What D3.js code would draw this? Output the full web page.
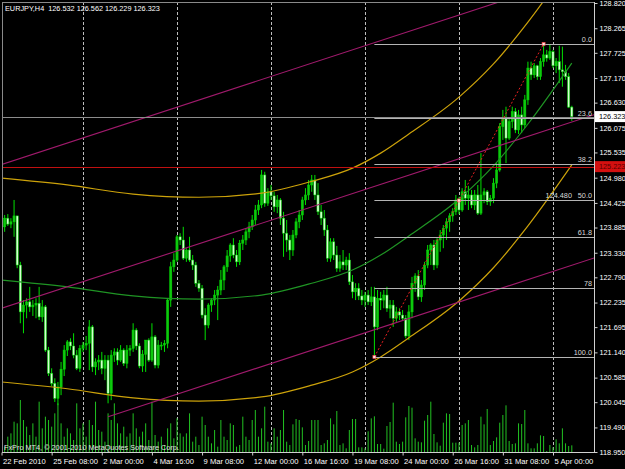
<!DOCTYPE html>
<html>
<head>
<meta charset="utf-8">
<script src="https://cdn.jsdelivr.net/npm/d3@7"></script>
<style>
  body { margin: 0; background: #000; }
  svg { display: block; }
  text { font-family: 'Liberation Sans', Arial, sans-serif; }
</style>
</head>
<body>
<svg></svg>
<script>
const width = 625;
const height = 469;
const plotLeft = 2, plotRight = 594, plotTop = 2, plotBottom = 452;

const symbol = 'EURJPY,H4';
const copyright = 'FxPro MT4, \u00a9 2001-2010 MetaQuotes Software Corp.';

// H4 bars, bar 0 = Mon 22 Feb 2010 00:00 (30 bars a week)
const firstBar = 4;
const firstOpen = 124.27;

const highs = [
  124.53,124.16,124.18,124.09,124.49,124.09,123.13,122.29,122.33,122.58,
  122.29,122.33,122.58,122.29,122.18,121.26,120.79,120.57,120.49,120.93,
  121.30,121.41,121.45,121.56,121.19,121.30,121.37,121.50,121.85,121.74,
  121.01,121.08,121.15,121.08,121.08,121.19,121.23,121.23,121.30,121.23,
  121.30,121.30,121.78,121.67,121.34,121.19,121.41,121.45,121.78,121.52,
  121.41,121.37,121.41,122.33,123.13,123.32,123.72,123.76,123.90,123.43,
  123.68,123.28,123.13,122.73,122.62,122.11,122.22,122.33,122.51,122.60,
  122.95,123.06,123.39,123.54,123.65,123.39,123.61,123.72,123.87,124.01,
  124.16,124.38,124.49,125.15,125.11,124.75,124.82,124.67,124.60,124.53,
  124.23,124.05,123.72,123.83,124.09,124.27,124.56,124.75,124.93,125.04,
  125.04,124.86,124.38,124.27,123.94,123.65,123.65,123.48,123.28,123.39,
  123.24,123.32,122.84,122.66,122.66,122.51,122.47,122.51,122.58,122.58,
  122.51,122.47,122.51,122.58,122.29,122.29,122.14,122.11,122.07,121.96,
  122.18,122.80,122.88,122.95,122.73,123.13,123.50,123.54,123.61,123.65,
  123.83,123.94,124.09,124.20,124.31,124.60,124.56,124.75,124.93,124.80,
  124.71,124.71,124.82,125.52,124.75,124.71,124.60,124.97,125.30,126.18,
  126.47,126.54,126.29,126.54,126.51,126.47,126.54,126.80,127.53,127.53,
  127.50,127.46,127.61,127.92,127.79,127.90,127.79,127.61,127.88,127.86,
  127.46,127.28,126.562
];
const lows = [
  123.61,123.79,123.92,123.87,123.68,122.99,121.78,121.56,121.89,122.03,
  121.94,121.89,121.85,121.81,121.15,120.62,120.40,120.05,119.98,120.20,
  120.62,121.06,121.19,121.01,120.75,120.71,121.15,121.19,120.75,120.71,
  120.64,120.75,120.66,120.53,120.02,120.09,120.93,120.86,120.93,120.84,
  120.79,121.06,121.15,121.19,120.79,120.71,120.71,120.93,120.93,120.79,
  120.79,121.19,121.15,121.23,122.14,122.91,123.13,123.50,123.17,123.13,
  123.13,122.95,122.58,122.47,121.89,121.41,121.67,122.03,122.18,121.85,
  122.40,122.51,122.91,123.13,123.21,123.02,123.06,123.39,123.50,123.65,
  123.83,123.94,124.16,124.31,124.34,124.36,124.49,124.23,124.20,123.94,
  123.24,123.35,123.17,123.26,123.65,123.87,124.05,124.38,124.49,124.67,
  124.49,124.16,123.94,123.70,123.13,123.13,123.17,122.91,122.91,122.95,
  122.95,122.62,122.33,122.29,122.29,122.18,122.14,122.18,122.16,121.04,
  121.63,122.07,122.11,122.03,121.89,121.70,121.81,121.85,121.85,121.45,
  121.41,121.89,122.47,122.29,122.25,122.51,122.99,123.06,122.95,122.99,
  123.35,123.43,123.61,123.79,124.01,124.16,124.18,124.23,124.38,124.27,
  124.31,124.27,124.16,124.16,124.42,124.38,124.36,124.42,124.75,125.11,
  125.81,125.30,125.81,126.07,125.96,125.94,125.96,126.07,126.58,127.13,
  127.17,127.13,127.13,127.42,127.53,127.57,127.39,127.28,127.06,126.98,
  127.13,126.51,126.229
];
const closes = [
  123.90,124.09,123.96,124.01,124.14,123.06,122.03,122.18,122.25,122.14,
  122.18,122.22,121.92,122.14,121.19,120.68,120.46,120.13,120.38,120.77,
  121.19,121.37,121.28,121.08,120.79,121.23,121.30,121.34,121.70,120.82,
  120.93,120.97,120.79,120.97,120.24,121.08,121.15,120.97,121.19,120.90,
  121.19,121.23,121.63,121.28,120.84,121.10,121.41,120.97,121.48,120.86,
  121.30,121.30,121.34,122.29,123.02,123.17,123.68,123.61,123.21,123.39,
  123.17,123.06,122.66,122.55,121.96,121.74,122.18,122.29,122.40,122.51,
  122.73,123.02,123.26,123.50,123.28,123.13,123.54,123.61,123.79,123.90,
  124.05,124.27,124.38,125.04,124.42,124.67,124.58,124.34,124.49,124.09,
  123.76,123.61,123.39,123.72,124.01,124.16,124.49,124.60,124.82,124.93,
  124.60,124.23,124.09,123.83,123.21,123.57,123.28,122.99,123.13,123.06,
  123.17,122.69,122.47,122.55,122.38,122.29,122.40,122.25,122.36,121.70,
  122.33,122.29,122.40,122.11,122.18,121.89,122.03,121.96,121.89,121.50,
  122.03,122.66,122.82,122.36,122.62,123.06,123.39,123.50,123.06,123.61,
  123.72,123.87,124.01,124.14,124.23,124.49,124.27,124.67,124.53,124.60,
  124.38,124.60,124.20,124.60,124.67,124.45,124.53,124.86,125.15,126.10,
  126.29,125.85,126.21,126.43,126.03,126.36,126.14,126.69,127.39,127.24,
  127.44,127.20,127.53,127.68,127.61,127.75,127.44,127.53,127.35,127.31,
  127.20,126.532,126.323
];
const volumes = [
  1060,160,460,560,910,860,1560,960,760,510,860,460,1510,710,1060,960,760,1160,1460,860,
  460,710,560,360,1460,710,860,460,960,810,1510,660,610,310,1160,960,1460,860,560,760,
  460,560,1160,710,460,610,860,360,1510,510,310,460,210,710,860,410,1010,560,460,560,
  1160,310,460,210,1060,810,460,260,660,160,960,460,360,860,810,160,210,1060,460,360,
  960,1260,460,710,1360,310,260,710,460,660,1260,310,
  210,830,990,960,740,210,330,960,960,960,210,260,360,1010,830,1230,210,260,110,
  660,990,990,140,140,110,620,1010,1070,240,240,100,780,900,1480,310,240,310,1040,1380,
  1330,410,310,290,940,1110,1510,540,290,190,880,1160,1140,280,280,280,810,860,960,210,
  140,210,1060,830,1290,210,330,440,880,1110,1400,330,240,260,860,840,1260,260,110,110,
  260,500,480,30,210,140,380,260,710,260,180,200
];

const priceTicks = [128.820,128.265,127.725,127.170,126.630,126.075,125.535,124.980,124.425,
  123.885,123.330,122.790,122.235,121.695,121.140,120.585,120.045,119.490,118.950];
const timeBars = [4,20,36,52,68,84,100,116,132,148,164,180];
const timeLabels = ['22 Feb 2010','25 Feb 08:00','2 Mar 00:00','4 Mar 16:00','9 Mar 08:00',
  '12 Mar 00:00','16 Mar 16:00','19 Mar 08:00','24 Mar 00:00','26 Mar 16:00','31 Mar 08:00','5 Apr 00:00'];
const weekStarts = [30,60,90,120,150,180];

// polynomial regression channel, middle line sampled off the chart
const regBars = [4,25,46,67,87,103,116,125,134,150,161,172,186];
const regMid = [122.73,122.58,122.38,122.31,122.40,122.66,122.95,123.28,123.70,124.51,125.24,126.16,127.50];
const regWidth = 2.24;

// equidistant channel (magenta)
const chanBase = [4, 122.11];
const chanSlope = 0.0225;
const chanOffsets = [3.16, 0, -3.15];
const chanStarts = [-10, -10, 38];

// fibo retracement from swing low to swing high
const fibBars = [123, 177];
const fibLevels = [0, 23.6, 38.2, 50, 61.8, 78, 100];
const fibLabels = ['0.0', '23.6', '38.2', '50.0', '61.8', '78', '100.0'];

const alertLevel = 125.223;

const svg = d3.select('svg').attr('width', width).attr('height', height);
svg.append('rect').attr('width', width).attr('height', height).attr('fill', '#000');

const xScale = d3.scaleLinear().domain([0, 180]).range([-11, 553]);
const yScale = d3.scaleLinear().domain([118.95, 128.82]).range([452, 3]);
const vScale = d3.scaleLinear().domain([0, 1500]).range([452, 402]);
const fmt = d3.format('.3f');

const bars = closes.map((c, k) => {
  const o = k === 0 ? firstOpen : closes[k - 1];
  return { i: firstBar + k, o, c, h: Math.max(highs[k], o, c), l: Math.min(lows[k], o, c), v: volumes[k] || 0 };
});
const barAt = (i) => bars[i - firstBar];

svg.append('clipPath').attr('id', 'plot')
  .append('rect').attr('x', plotLeft).attr('y', plotTop)
  .attr('width', plotRight - plotLeft).attr('height', plotBottom - plotTop);
const plot = svg.append('g').attr('clip-path', 'url(#plot)');

// weekly grid
plot.selectAll('.grid').data(weekStarts).enter().append('line')
  .attr('x1', (d) => Math.round(xScale(d)) + 0.5).attr('x2', (d) => Math.round(xScale(d)) + 0.5)
  .attr('y1', plotTop).attr('y2', plotBottom)
  .attr('stroke', '#bdbdbd').attr('stroke-dasharray', '3,2');

// volumes
plot.selectAll('.vol').data(bars).enter().append('rect')
  .attr('x', (d) => xScale(d.i) - 0.5).attr('width', 1)
  .attr('y', (d) => vScale(d.v)).attr('height', (d) => plotBottom - vScale(d.v))
  .attr('fill', '#22c022');

// candles
plot.selectAll('.wick').data(bars).enter().append('line')
  .attr('x1', (d) => xScale(d.i)).attr('x2', (d) => xScale(d.i))
  .attr('y1', (d) => yScale(d.h)).attr('y2', (d) => yScale(d.l))
  .attr('stroke', '#00e000').attr('stroke-width', 1);
plot.selectAll('.body').data(bars).enter().append('rect')
  .attr('x', (d) => xScale(d.i) - 1.1).attr('width', 2.2)
  .attr('y', (d) => yScale(Math.max(d.o, d.c)))
  .attr('height', (d) => Math.max(1, Math.abs(yScale(d.o) - yScale(d.c))))
  .attr('fill', (d) => (d.c >= d.o ? '#10c810' : '#d4ffd0'))
  .attr('stroke', '#00d800').attr('stroke-width', 0.5);

// regression channel
const curve = d3.line().x((d) => xScale(d[0])).y((d) => yScale(d[1])).curve(d3.curveMonotoneX);
[[regWidth, '#cca20a'], [0, '#1f9424'], [-regWidth, '#cca20a']].forEach(([off, col]) => {
  plot.append('path')
    .datum(regBars.map((b, k) => [b, regMid[k] + off]))
    .attr('d', curve).attr('fill', 'none').attr('stroke', col).attr('stroke-width', 1.2);
});

// equidistant channel
const chanEnd = 200;
plot.selectAll('.chan').data(chanOffsets).enter().append('line')
  .attr('x1', (d, k) => xScale(chanStarts[k]))
  .attr('y1', (d, k) => yScale(chanBase[1] + d + chanSlope * (chanStarts[k] - chanBase[0])))
  .attr('x2', xScale(chanEnd))
  .attr('y2', (d) => yScale(chanBase[1] + d + chanSlope * (chanEnd - chanBase[0])))
  .attr('stroke', '#a01a6c').attr('stroke-width', 1.1);

// bid line and alert line
const last = bars[bars.length - 1];
plot.append('line').attr('x1', plotLeft).attr('x2', plotRight)
  .attr('y1', Math.round(yScale(last.c)) + 0.5).attr('y2', Math.round(yScale(last.c)) + 0.5)
  .attr('stroke', '#8c8c8c');
plot.append('line').attr('x1', plotLeft).attr('x2', plotRight)
  .attr('y1', Math.round(yScale(alertLevel)) + 0.5).attr('y2', Math.round(yScale(alertLevel)) + 0.5)
  .attr('stroke', '#c01010');

// fibo
const fibLow = barAt(fibBars[0]).l;
const fibHigh = barAt(fibBars[1]).h;
const fibPrice = (lv) => fibHigh - (fibHigh - fibLow) * lv / 100;
plot.selectAll('.fib').data(fibLevels).enter().append('line')
  .attr('x1', xScale(fibBars[0])).attr('x2', plotRight)
  .attr('y1', (d) => Math.round(yScale(fibPrice(d))) + 0.5)
  .attr('y2', (d) => Math.round(yScale(fibPrice(d))) + 0.5)
  .attr('stroke', '#b4b4b4');
plot.selectAll('.fibText').data(fibLevels).enter().append('text')
  .attr('x', 592).attr('y', (d) => yScale(fibPrice(d)) - 2)
  .attr('text-anchor', 'end').attr('font-size', 7.3).attr('fill', '#d8d8d8')
  .text((d, k) => fibLabels[k]);
plot.append('text').attr('x', 572).attr('y', yScale(fibPrice(50)) - 2)
  .attr('text-anchor', 'end').attr('font-size', 7.3).attr('fill', '#d8d8d8')
  .text(fmt(fibPrice(50)));
plot.append('line')
  .attr('x1', xScale(fibBars[0])).attr('y1', yScale(fibLow))
  .attr('x2', xScale(fibBars[1])).attr('y2', yScale(fibHigh))
  .attr('stroke', '#e82020').attr('stroke-dasharray', '2,2');
const markers = [[fibBars[0], fibLow], [(fibBars[0] + fibBars[1]) / 2, (fibLow + fibHigh) / 2], [fibBars[1], fibHigh]];
plot.selectAll('.mark').data(markers).enter().append('rect')
  .attr('x', (d) => xScale(d[0]) - 1.5).attr('y', (d) => yScale(d[1]) - 1.5)
  .attr('width', 3).attr('height', 3)
  .attr('fill', '#ffe0e0').attr('stroke', '#ff4040').attr('stroke-width', 0.6);

// frame
svg.append('line').attr('x1', plotLeft + 0.5).attr('x2', plotLeft + 0.5).attr('y1', plotTop).attr('y2', plotBottom).attr('stroke', '#8a8a8a');
svg.append('line').attr('x1', plotLeft).attr('x2', plotRight).attr('y1', plotTop + 0.5).attr('y2', plotTop + 0.5).attr('stroke', '#8a8a8a');
svg.append('line').attr('x1', plotRight + 0.5).attr('x2', plotRight + 0.5).attr('y1', plotTop).attr('y2', plotBottom + 1).attr('stroke', '#d0d0d0');
svg.append('line').attr('x1', plotLeft).attr('x2', plotRight + 1).attr('y1', plotBottom + 0.5).attr('y2', plotBottom + 0.5).attr('stroke', '#d0d0d0');

// price axis
const yAxis = d3.axisRight(yScale).tickValues(priceTicks).tickFormat(fmt).tickSize(3).tickPadding(2);
const gy = svg.append('g').attr('transform', 'translate(' + (plotRight + 0.5) + ',0)').call(yAxis);
gy.select('.domain').remove();
gy.selectAll('line').attr('stroke', '#d0d0d0');
gy.selectAll('text').attr('fill', '#fff').attr('font-size', 7.3).attr('font-family', 'Liberation Sans, Arial, sans-serif');

// time axis
const xAxis = d3.axisBottom(xScale).tickValues(timeBars).tickFormat((d, k) => timeLabels[k]).tickSize(3).tickPadding(3);
const gx = svg.append('g').attr('transform', 'translate(0,' + (plotBottom + 0.5) + ')').call(xAxis);
gx.select('.domain').remove();
gx.selectAll('line').attr('stroke', '#d0d0d0');
gx.selectAll('text').attr('fill', '#fff').attr('font-size', 7.6).attr('text-anchor', 'start')
  .attr('dx', 1).attr('font-family', 'Liberation Sans, Arial, sans-serif');

// price boxes
const boxes = [[last.c, '#ffffff', '#000000'], [alertLevel, '#d41010', '#5a0000']];
boxes.forEach(([p, bg, fg]) => {
  svg.append('rect').attr('x', plotRight + 1).attr('y', yScale(p) - 5.5)
    .attr('width', width - plotRight - 1).attr('height', 11).attr('fill', bg);
  svg.append('text').attr('x', plotRight + 5).attr('y', yScale(p) + 2.6)
    .attr('font-size', 7.3).attr('fill', fg).text(fmt(p));
});

// title and copyright
svg.append('text').attr('x', 5).attr('y', 10.5).attr('font-size', 7.3).attr('fill', '#fff')
  .attr('xml:space', 'preserve')
  .text(symbol + '  ' + [last.o, last.h, last.l, last.c].map(fmt).join(' '));
svg.append('text').attr('x', 4).attr('y', 449.5).attr('font-size', 7.3).attr('fill', '#e0e0e0')
  .text(copyright);
</script>
</body>
</html>
